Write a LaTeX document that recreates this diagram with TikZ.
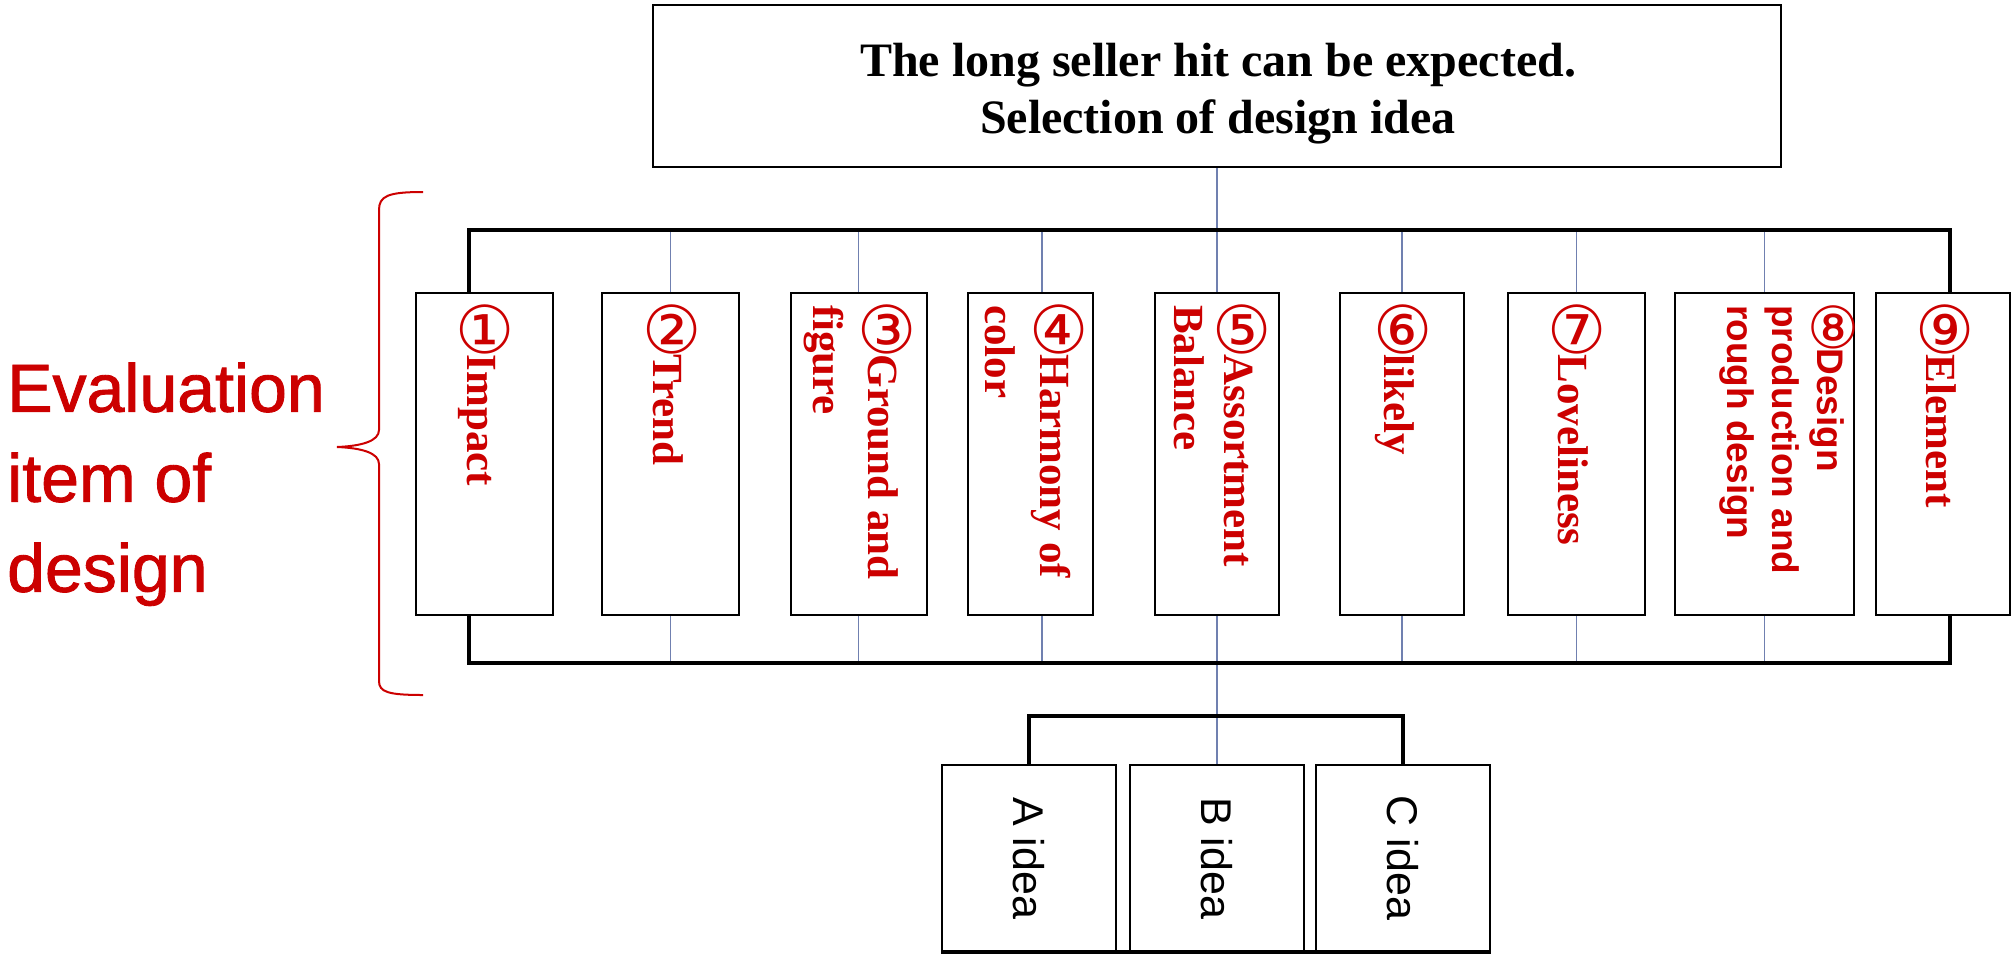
\documentclass[tikz,border=0pt]{standalone}
\usepackage{fontspec}
\setmainfont{Liberation Serif}
\newfontfamily\sansf{Liberation Sans}
\newfontfamily\sansheavy[FakeBold=1.3]{Liberation Sans}
\newfontfamily\circf{DejaVu Sans}
\definecolor{redtxt}{RGB}{204,0,0}
\definecolor{thinblue}{RGB}{112,128,176}
\newcommand{\cdig}[2][66]{\smash{\raisebox{-6pt}{\rotatebox[origin=c]{90}{\circf\mdseries\fontsize{#1}{#1}\selectfont #2}}}}
\newcommand{\lstrut}{\rule[-0.22em]{0pt}{0.91em}}
\newcommand{\sstrut}{\rule[-0.22em]{0pt}{0.95em}}
\pgfdeclarelayer{bg}
\pgfsetlayers{bg,main}
\begin{document}
\begin{tikzpicture}[x=1pt,y=-1pt,
  box/.style={draw=black, line width=2pt, fill=white, inner sep=0pt},
  thickln/.style={draw=black, line width=4pt, line join=miter},
  thinln/.style={draw=thinblue, line width=1.5pt},
  vtext/.style={rotate=-90, anchor=west, inner sep=0pt, align=left, text=redtxt,
    font=\bfseries\fontsize{43}{55}\selectfont},
  idtext/.style={rotate=-90, inner sep=0pt, font=\sansf\fontsize{43}{50}\selectfont},
  ibox/.style={box, minimum height=322.4pt},
  idbox/.style={box, minimum width=174pt, minimum height=186pt}]
\useasboundingbox (0,0) rectangle (2012,953);

% top box
\node[box, minimum width=1128pt, minimum height=161.7pt] (top) at (1217,85.9) {};
\node[inner sep=0pt, align=center, font=\bfseries\fontsize{48}{57.3}\selectfont] (toptext) at (1218,93.6)
  {The long seller hit can be expected.\\Selection of design idea};

% evaluation label and brace
\node[anchor=north west, inner sep=0pt, align=left, text=redtxt,
  font=\sansheavy\fontsize{68}{90}\selectfont] (evaltext) at (7,362.3) {Evaluation\\item of\\design};
\draw[redtxt, line width=2pt] (423,192) .. controls (388,192) and (379,196) .. (379,210)
  -- (379,430) .. controls (379,441) and (362,446) .. (337,447)
  .. controls (362,448) and (379,453) .. (379,464)
  -- (379,681) .. controls (379,692) and (388,695) .. (423,695);

% item boxes
\node[ibox, minimum width=137pt] (b1) at (484.5,453.8) {};
\node[ibox, minimum width=137pt] (b2) at (670.5,453.8) {};
\node[ibox, minimum width=136pt] (b3) at (858.5,453.8) {};
\node[ibox, minimum width=125.8pt] (b4) at (1030.4,453.8) {};
\node[ibox, minimum width=124pt] (b5) at (1217,453.8) {};
\node[ibox, minimum width=124pt] (b6) at (1402,453.8) {};
\node[ibox, minimum width=137pt] (b7) at (1576.5,453.8) {};
\node[ibox, minimum width=179pt] (b8) at (1764.5,453.8) {};
\node[ibox, minimum width=134pt] (b9) at (1943,453.8) {};

% item texts
\node[vtext] (t1) at (477.1,305) {\cdig{①}Impact\lstrut};
\node[vtext] (t2) at (664.1,305) {\cdig{②}Trend\lstrut};
\node[vtext] (t3) at (851.6,305) {\cdig{③}Ground and\lstrut\\figure\lstrut};
\node[vtext] (t4) at (1023.6,305) {\cdig{④}Harmony of\lstrut\\color\lstrut};
\node[vtext, font=\bfseries\fontsize{43}{50}\selectfont] (t5) at (1209.1,305) {\cdig{⑤}Assortment\lstrut\\Balance\lstrut};
\node[vtext] (t6) at (1395.1,305) {\cdig{⑥}likely\lstrut};
\node[vtext] (t7) at (1569.1,305) {\cdig{⑦}Loveliness\lstrut};
\node[vtext, font=\sansf\bfseries\fontsize{37}{45}\selectfont] (t8) at (1782.4,305)
  {\cdig[58]{⑧}Design\sstrut\\production and\sstrut\\rough design\sstrut};
\node[vtext] (t9) at (1937.1,305) {\cdig{⑨}Element\lstrut};

% idea boxes
\node[idbox] (ideaA) at (1029,858) {};
\node[idbox] (ideaB) at (1217,858) {};
\node[idbox] (ideaC) at (1402.5,858) {};
\node[idtext] (ta) at (ideaA.center) {A idea};
\node[idtext] (tb) at (ideaB.center) {B idea};
\node[idtext] (tc) at (ideaC.center) {C idea};

% coordinates of the brackets
\coordinate (brTL) at (469,229.7);
\coordinate (brTR) at (1950,229.7);
\coordinate (brBL) at (469,663.4);
\coordinate (brBR) at (1950,663.4);
\coordinate (c4t) at (1042,229.7);
\coordinate (c4b) at (1042,663.4);
\coordinate (iL) at (1029,716);
\coordinate (iR) at (1402.5,716);

\begin{pgfonlayer}{bg}
  % thin connectors
  \draw[thinln] (top.south) -- (ideaB.north);
  \foreach \b in {b2,b3,b6,b7,b8}{
    \draw[thinln] (\b.north |- brTL) -- (\b.north);
    \draw[thinln] (\b.south) -- (\b.south |- brBL);
  }
  \draw[thinln] (c4t) -- (c4t |- b4.north);
  \draw[thinln] (c4b |- b4.south) -- (c4b);
  % thick brackets
  \draw[thickln] (b1.north -| brTL) -- (brTL) -- (brTR) -- (b9.north -| brTR);
  \draw[thickln] (b1.south -| brBL) -- (brBL) -- (brBR) -- (b9.south -| brBR);
  \draw[thickln] (ideaA.north) -- (ideaA.north |- iL) -- (ideaC.north |- iR) -- (ideaC.north);
  \draw[thickln] (ideaA.south west) -- (ideaC.south east);
\end{pgfonlayer}
\end{tikzpicture}
\end{document}
